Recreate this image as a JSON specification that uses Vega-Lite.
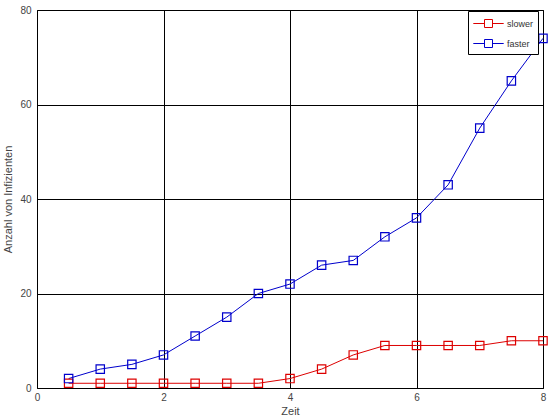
{
  "$schema": "https://vega.github.io/schema/vega-lite/v6.json",
  "width": 506,
  "height": 378,
  "autosize": {"type": "none"},
  "padding": {"left": 37, "top": 10, "right": 17, "bottom": 32},
  "background": "white",
  "config": {
    "font": "Liberation Sans",
    "view": {"stroke": "black", "strokeWidth": 1},
    "axis": {
      "grid": true,
      "gridColor": "black",
      "gridOpacity": 1,
      "gridWidth": 1,
      "domain": false,
      "ticks": false,
      "labelColor": "#444444",
      "titleColor": "#444444",
      "labelFont": "Liberation Sans",
      "titleFont": "Liberation Sans",
      "labelFontSize": 10,
      "titleFontSize": 11,
      "titleFontWeight": "normal"
    }
  },
  "data": {
    "values": [
      {"t": 0.5, "s": "slower", "v": 1}, {"t": 1, "s": "slower", "v": 1}, {"t": 1.5, "s": "slower", "v": 1}, {"t": 2, "s": "slower", "v": 1},
      {"t": 2.5, "s": "slower", "v": 1}, {"t": 3, "s": "slower", "v": 1}, {"t": 3.5, "s": "slower", "v": 1}, {"t": 4, "s": "slower", "v": 2},
      {"t": 4.5, "s": "slower", "v": 4}, {"t": 5, "s": "slower", "v": 7}, {"t": 5.5, "s": "slower", "v": 9}, {"t": 6, "s": "slower", "v": 9},
      {"t": 6.5, "s": "slower", "v": 9}, {"t": 7, "s": "slower", "v": 9}, {"t": 7.5, "s": "slower", "v": 10}, {"t": 8, "s": "slower", "v": 10},
      {"t": 0.5, "s": "faster", "v": 2}, {"t": 1, "s": "faster", "v": 4}, {"t": 1.5, "s": "faster", "v": 5}, {"t": 2, "s": "faster", "v": 7},
      {"t": 2.5, "s": "faster", "v": 11}, {"t": 3, "s": "faster", "v": 15}, {"t": 3.5, "s": "faster", "v": 20}, {"t": 4, "s": "faster", "v": 22},
      {"t": 4.5, "s": "faster", "v": 26}, {"t": 5, "s": "faster", "v": 27}, {"t": 5.5, "s": "faster", "v": 32}, {"t": 6, "s": "faster", "v": 36},
      {"t": 6.5, "s": "faster", "v": 43}, {"t": 7, "s": "faster", "v": 55}, {"t": 7.5, "s": "faster", "v": 65}, {"t": 8, "s": "faster", "v": 74}
    ]
  },
  "mark": {"type": "line", "strokeWidth": 1, "point": {"shape": "square", "filled": false, "size": 70, "strokeWidth": 1.2}},
  "encoding": {
    "x": {"field": "t", "type": "quantitative", "title": "Zeit", "scale": {"domain": [0, 8], "nice": false},
      "axis": {"values": [0, 2, 4, 6, 8], "labelPadding": 4, "titlePadding": 3, "labelFlush": false}},
    "y": {"field": "v", "type": "quantitative", "title": "Anzahl von Infizienten", "scale": {"domain": [0, 80], "nice": false},
      "axis": {"values": [0, 20, 40, 60, 80], "labelPadding": 6, "titlePadding": 6, "labelFlush": false}},
    "color": {"field": "s", "type": "nominal",
      "scale": {"domain": ["slower", "faster"], "range": ["#dd0000", "#0000cc"]},
      "legend": {
        "title": null, "orient": "none", "legendX": 431, "legendY": 1,
        "strokeColor": "black", "fillColor": "white", "padding": 4,
        "symbolType": "M-1.9,0 L-0.5,0 M0.5,0 L1.9,0 M-0.5,-0.5 L0.5,-0.5 L0.5,0.5 L-0.5,0.5 Z",
        "symbolSize": 256, "symbolStrokeWidth": 1, "symbolFillColor": "transparent", "symbolOffset": 8,
        "labelFontSize": 9, "labelColor": "#333333", "rowPadding": 5, "labelOffset": 10,
        "encode": {"symbols": {"update": {"stroke": {"scale": "color", "field": "value"}, "fill": {"value": "transparent"}}}}
      }
    }
  }
}
